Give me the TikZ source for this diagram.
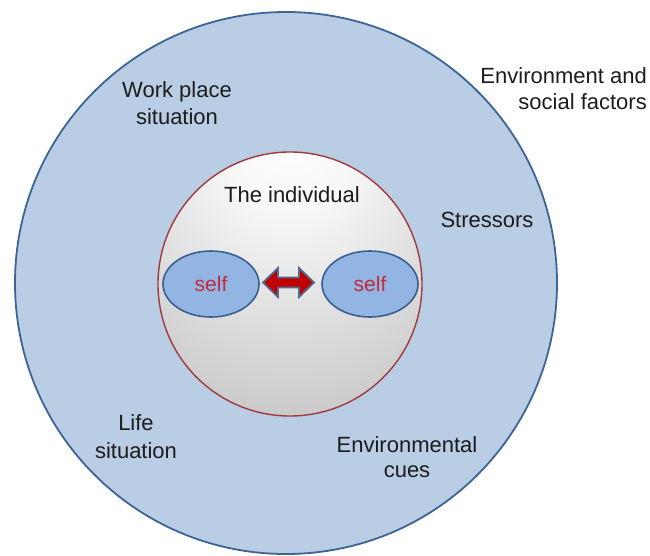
\documentclass[tikz,border=0pt]{standalone}
\usepackage{fontspec}
\setmainfont{Liberation Sans}
\usetikzlibrary{calc,shapes.geometric}
\definecolor{bigfill}{HTML}{B9CDE5}
\definecolor{bigdraw}{HTML}{3E6496}
\definecolor{selffill}{HTML}{92B5E3}
\definecolor{selfdraw}{HTML}{3A5E8E}
\definecolor{innerdraw}{HTML}{A03A3C}
\definecolor{selftext}{HTML}{C42A3E}
\definecolor{arrfill}{HTML}{C00000}
\definecolor{arrdraw}{HTML}{506B90}
\definecolor{txt}{HTML}{1C1C1C}
\pgfdeclareradialshading{indiv}{\pgfpoint{0bp}{30bp}}{%
  color(0bp)=(white);
  color(12bp)=(white!97!black);
  color(40bp)=(black!20);
  color(65bp)=(black!36);
  color(80bp)=(black!44);
  color(90bp)=(black!46)}
\begin{document}
\begin{tikzpicture}[x=1pt,y=-1pt,
  lbl/.style={font=\fontsize{22}{27}\selectfont, text=txt, inner sep=0pt, align=center, anchor=base},
  selfbox/.style={ellipse, draw=selfdraw, line width=1.6pt, fill=selffill,
    minimum width=96pt, minimum height=66pt, inner sep=0pt,
    font=\fontsize{21}{26}\selectfont, text=selftext}]
\useasboundingbox (0,0) rectangle (650,556);
% environment circle
\node[circle, draw=bigdraw, line width=1.8pt, fill=bigfill, minimum size=542pt, inner sep=0pt] (env) at (286,283) {};
% individual
\node[circle, draw=innerdraw, line width=1.4pt, shading=indiv, minimum size=264pt, inner sep=0pt] (indiv) at (290,284) {};
\node[selfbox] (sl) at (211,284) {self};
\node[selfbox] (sr) at (370,284) {self};
% double arrow between selves
\coordinate (arr) at ($(sl.east)!0.5!(sr.west)+(-2,-1.5)$);
\draw[draw=arrdraw, line width=1.8pt, fill=arrfill, line join=miter]
  ($(arr)+(-25.5,0)$) -- ++(15,14.5) -- ++(0,-9.5) -- ++(21,0) -- ++(0,9.5)
  -- ($(arr)+(25.5,0)$) -- ++(-15,-14.5) -- ++(0,9.5) -- ++(-21,0) -- ++(0,-9.5) -- cycle;
% labels
\node[lbl] (indivl) at (292,202) {The individual};
\node[lbl] (work) at (177,125) {Work place\\situation};
\node[lbl, align=right, anchor=base east, font=\fontsize{22}{26}\selectfont] (envsoc) at (647,110) {Environment and\\social factors};
\node[lbl] (stress) at (487,227) {Stressors};
\node[lbl, font=\fontsize{22}{28}\selectfont] (life) at (136,458) {Life\\situation};
\node[lbl, font=\fontsize{22}{25}\selectfont] (cues) at (407,477) {Environmental\\cues};
\end{tikzpicture}
\end{document}
